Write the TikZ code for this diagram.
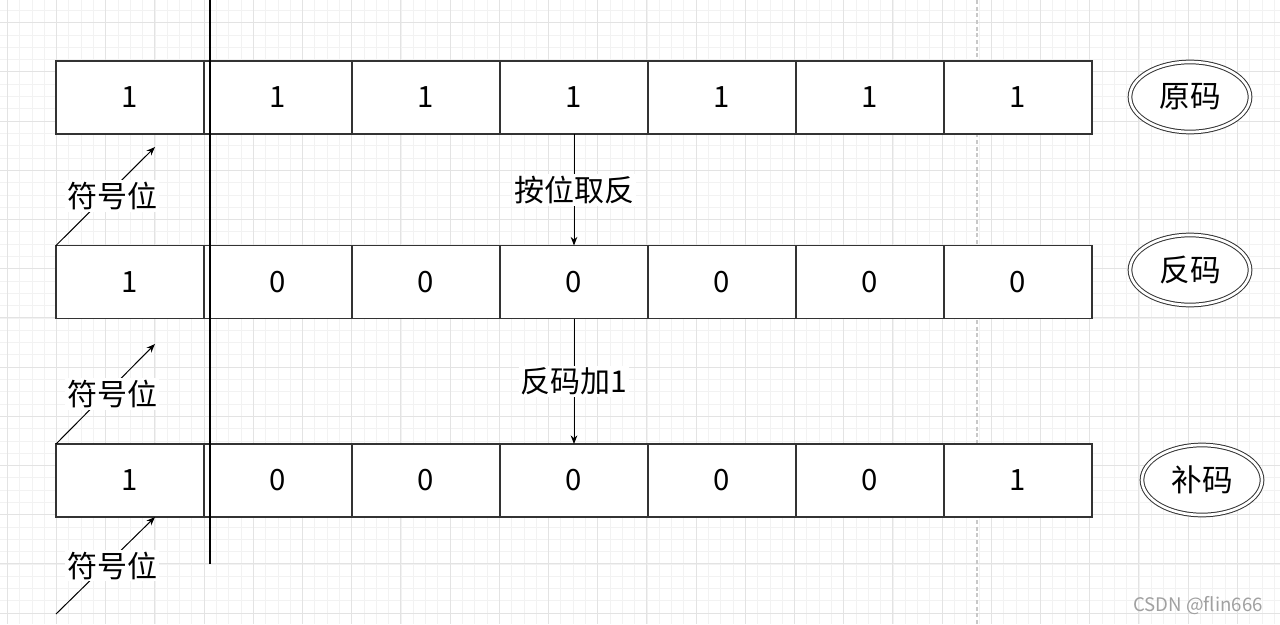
\documentclass[tikz,border=0pt]{standalone}
\usepackage{fontspec}
\setmainfont{Noto Sans CJK SC}
\usetikzlibrary{shapes.geometric,arrows.meta}

\definecolor{boxline}{HTML}{333333}
\definecolor{gridminor}{HTML}{F2F2F2}
\definecolor{gridmajor}{HTML}{E3E3E3}
\definecolor{pagebreak}{HTML}{C8C8C8}
\definecolor{mark}{HTML}{A0A0A0}

\tikzstyle{s} = [rectangle, minimum width=111pt, minimum height=54.75pt, inner sep=0pt, outer sep=0pt, draw=boxline, line width=1pt, fill=white, font=\fontsize{22}{26}\selectfont]
\tikzstyle{e} = [ellipse, minimum width=90pt, minimum height=52.5pt, inner sep=0pt, draw=boxline, line width=0.75pt, double, double distance=2pt, fill=white, font=\fontsize{23}{27}\selectfont]
\tikzstyle{lbl} = [fill=white, inner sep=1.5pt, font=\fontsize{22.5}{26}\selectfont]

\begin{document}
\begin{tikzpicture}[x=0.75pt,y=-0.75pt,node distance=111pt,>={Stealth[length=6.5pt,width=5pt]}]
\useasboundingbox (0,0) rectangle (1280,624);
\fill[white] (0,0) rectangle (1280,624);

% background grid
\foreach \i in {0,...,103} \draw[gridminor, line width=0.6pt] ({7.3+12.3*\i},0) -- ({7.3+12.3*\i},624);
\foreach \j in {0,...,50} \draw[gridminor, line width=0.6pt] (0,{10.4+12.3*\j}) -- (1280,{10.4+12.3*\j});
\foreach \i in {0,...,25} \draw[gridmajor, line width=0.75pt] ({7.3+49.2*\i},0) -- ({7.3+49.2*\i},624);
\foreach \j in {0,...,12} \draw[gridmajor, line width=0.75pt] (0,{22.7+49.2*\j}) -- (1280,{22.7+49.2*\j});
\draw[pagebreak, line width=1pt, dash pattern=on 3pt off 2pt] (977,0) -- (977,624);

% original code
\node[s] (Y0) at (130,97.5) {1};
\node[s] (Y1) [right of=Y0] {1};
\node[s] (Y2) [right of=Y1] {1};
\node[s] (Y3) [right of=Y2] {1};
\node[s] (Y4) [right of=Y3] {1};
\node[s] (Y5) [right of=Y4] {1};
\node[s] (Y6) [right of=Y5] {1};
\node[e] (LY) at (1190,97) {原码};

% ones' complement
\node[s] (F0) at (130,282) {1};
\node[s] (F1) [right of=F0] {0};
\node[s] (F2) [right of=F1] {0};
\node[s] (F3) [right of=F2] {0};
\node[s] (F4) [right of=F3] {0};
\node[s] (F5) [right of=F4] {0};
\node[s] (F6) [right of=F5] {0};
\node[e] (LF) at (1190,270) {反码};

% two's complement
\node[s] (B0) at (130,480.5) {1};
\node[s] (B1) [right of=B0] {0};
\node[s] (B2) [right of=B1] {0};
\node[s] (B3) [right of=B2] {0};
\node[s] (B4) [right of=B3] {0};
\node[s] (B5) [right of=B4] {0};
\node[s] (B6) [right of=B5] {1};
\node[e] (LB) at (1202,480) {补码};

\path[->, draw=black, line width=0.75pt]
    (Y3) edge node [lbl] {按位取反} (F3)
    (F3) edge node [lbl] {反码加1} (B3)
    ;

% sign bit pointers
\coordinate (T1) at (155,147);
\coordinate (T2) at (155,344);
\coordinate (T3) at (155,517);
\coordinate (A3) at (56,614);
\draw[->, line width=0.75pt] (F0.north west) -- node [lbl, xshift=5pt] {符号位} (T1);
\draw[->, line width=0.75pt] (B0.north west) -- node [lbl, xshift=5pt] {符号位} (T2);
\draw[->, line width=0.75pt] (A3) -- node [lbl, xshift=5pt] {符号位} (T3);

% sign separator
\coordinate (V1) at (210,0);
\coordinate (V2) at (210,564);
\draw[black, line width=1.6pt] (V1) -- (V2);

\node[text=mark, font=\fontsize{14}{16}\selectfont] (WM) at (1198,606) {CSDN @flin666};

\end{tikzpicture}
\end{document}
